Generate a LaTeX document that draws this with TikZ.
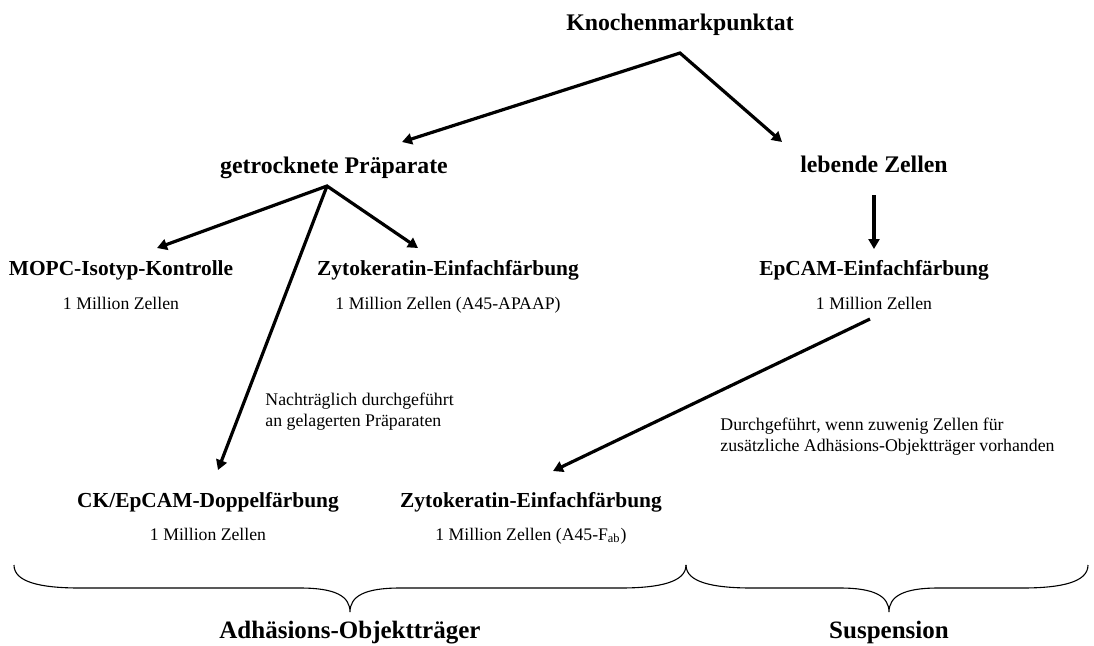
\documentclass[tikz,border=0pt]{standalone}
\usepackage{fontspec}
\setmainfont{Liberation Serif}
\usetikzlibrary{arrows.meta}
\begin{document}
\begin{tikzpicture}[x=0.5pt,y=-0.5pt,
  lvlA/.style={font=\fontsize{11.9}{14}\selectfont\bfseries, inner sep=0pt, anchor=base},
  lvlB/.style={font=\fontsize{10.7}{13}\selectfont\bfseries, inner sep=0pt, anchor=base},
  sublbl/.style={font=\fontsize{8.85}{10.5}\selectfont, inner sep=0pt, anchor=base},
  notelbl/.style={font=\fontsize{8.9}{10.4}\selectfont, inner sep=0pt, anchor=north west, align=left},
  grp/.style={font=\fontsize{12.5}{15}\selectfont\bfseries, inner sep=0pt, anchor=base},
  arr/.style={line width=1.6pt, -{Triangle[length=5pt,width=5.5pt]}},
  arrtwo/.style={line width=1.6pt, line join=miter, {Triangle[length=5pt,width=5.5pt]}-{Triangle[length=5pt,width=5.5pt]}},
  brc/.style={line width=0.55pt}]
\useasboundingbox (0,0) rectangle (1094,645);

% level 1
\node[lvlA] (km) at (680,30) {Knochenmarkpunktat};
\node[lvlA] (gp) at (334,173) {getrocknete Präparate};
\node[lvlA] (lz) at (874,172) {lebende Zellen};

% level 2
\node[lvlB] (mopc) at (121,275) {MOPC-Isotyp-Kontrolle};
\node[sublbl] (mopcS) at (121,309) {1 Million Zellen};
\node[lvlB] (zyto) at (448,275) {Zytokeratin-Einfachfärbung};
\node[sublbl] (zytoS) at (448,309) {1 Million Zellen (A45-APAAP)};
\node[lvlB] (ep) at (874,275) {EpCAM-Einfachfärbung};
\node[sublbl] (epS) at (874,309) {1 Million Zellen};

% level 3
\node[lvlB] (ck) at (208,507) {CK/EpCAM-Doppelfärbung};
\node[sublbl] (ckS) at (208,540) {1 Million Zellen};
\node[lvlB] (zytb) at (531,507) {Zytokeratin-Einfachfärbung};
\node[sublbl] (zytbS) at (531,540) {1 Million Zellen (A45-F\textsubscript{ab})};

% notes
\node[notelbl] (n1) at (265,393) {Nachträglich durchgeführt\\an gelagerten Präparaten};
\node[notelbl] (n2) at (720,418) {Durchgeführt, wenn zuwenig Zellen für\\zusätzliche Adhäsions-Objektträger vorhanden};

% group labels
\node[grp] (adh) at (350,638) {Adhäsions-Objektträger};
\node[grp] (sus) at (889,638) {Suspension};

% connector points
\coordinate (kmOut) at (680,53);
\coordinate (gpIn) at (402,142);
\coordinate (lzIn) at (782,142);
\coordinate (gpOut) at (327,186);
\coordinate (mopcIn) at (157,248);
\coordinate (zytoIn) at (418,248);
\coordinate (ckIn) at (218,470);
\coordinate (lzOut) at (874,195);
\coordinate (epIn) at (874,249);
\coordinate (epOut) at (870,319);
\coordinate (zytbIn) at (553,471);

\draw[arrtwo] (gpIn) -- (kmOut) -- (lzIn);
\draw[arrtwo] (mopcIn) -- (gpOut) -- (zytoIn);
\draw[arr] (gpOut) -- (ckIn);
\draw[arr] (lzOut) -- (epIn);
\draw[arr] (epOut) -- (zytbIn);

% braces
\coordinate (bL) at (14,565);
\coordinate (bM) at (686,565);
\coordinate (bR) at (1088,565);
\coordinate (tA) at (350,612);
\coordinate (tS) at (889,612);
\draw[brc] (bL) .. controls (14,582) and (40,588) .. (80,588) -- (300,588)
  .. controls (335,588) and (350,596) .. (tA)
  .. controls (350,596) and (365,588) .. (400,588) -- (620,588)
  .. controls (660,588) and (686,582) .. (bM);
\draw[brc] (bM) .. controls (686,582) and (712,588) .. (752,588) -- (840,588)
  .. controls (874,588) and (889,596) .. (tS)
  .. controls (889,596) and (904,588) .. (938,588) -- (1022,588)
  .. controls (1062,588) and (1088,582) .. (bR);
\end{tikzpicture}
\end{document}
